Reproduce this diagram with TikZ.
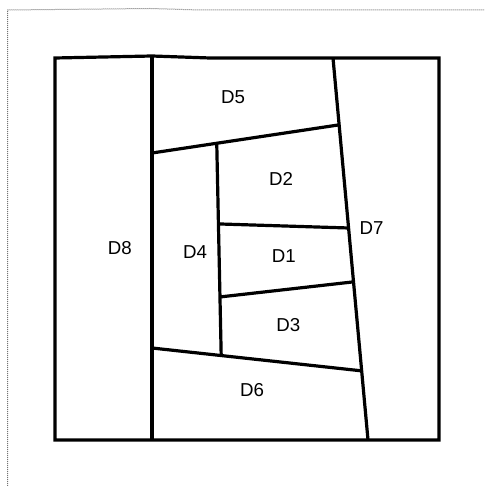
\documentclass[tikz,border=0pt]{standalone}
\usepackage{fontspec}
\setmainfont{Liberation Sans}
\usetikzlibrary{
    calc,
    positioning
}

\begin{document}
\begin{tikzpicture}[x=1pt, y=-1pt,
    wall/.style={line width=3.2pt, line join=miter},
    frameline/.style={black!55, line width=1pt, densely dotted},
    zonelabel/.style={font=\fontsize{18.7}{22}\selectfont, inner sep=0pt}]
\useasboundingbox (0,0) rectangle (484,486);
% Define corners
\coordinate (tl) at (55,58);
\coordinate (tm) at (152,56);
\coordinate (tk) at (210,58);
\coordinate (t7) at (333,58);
\coordinate (tr) at (439,58);
\coordinate (br) at (439,440);
\coordinate (b7) at (368,440);
\coordinate (bm) at (152,440);
\coordinate (bl) at (55,440);

\coordinate (d5l) at (152,153);
\coordinate (d6l) at (152,348);
\coordinate (d5r) at ($(t7)!0.175!(b7)$);
\coordinate (d2r) at ($(t7)!0.445!(b7)$);
\coordinate (d3r) at ($(t7)!0.586!(b7)$);
\coordinate (d6r) at ($(t7)!0.819!(b7)$);
\coordinate (d4t) at ($(d5l)!0.346!(d5r)$);
\coordinate (d4b) at ($(d6l)!0.33!(d6r)$);
\coordinate (d2l) at ($(d4t)!0.38!(d4b)$);
\coordinate (d3l) at ($(d4t)!0.724!(d4b)$);

% Dotted page frame
\draw[frameline] (7.5,486) -- (7.5,10) -- (150,8.5) -- (200,10) -- (484,10);

\draw[wall] (tl) -- (tm) -- (tk) -- (tr) -- (br) -- (bl) -- cycle;
\draw[wall] (tm) -- (bm);
\draw[wall] (t7) -- (b7);
\draw[wall] (d5l) -- (d5r);
\draw[wall] (d6l) -- (d6r);
\draw[wall] (d4t) -- (d4b);
\draw[wall] (d2l) -- (d2r);
\draw[wall] (d3l) -- (d3r);

\node[zonelabel] (D1) at (283.7,256) {D1};
\node[zonelabel] (D2) at (281,179) {D2};
\node[zonelabel] (D3) at (288.3,325) {D3};
\node[zonelabel] (D4) at (195,252.5) {D4};
\node[zonelabel] (D5) at (233,97) {D5};
\node[zonelabel] (D6) at (252,390) {D6};
\node[zonelabel] (D7) at (371.5,228.5) {D7};
\node[zonelabel] (D8) at (119.7,248.3) {D8};
\end{tikzpicture}
\end{document}
